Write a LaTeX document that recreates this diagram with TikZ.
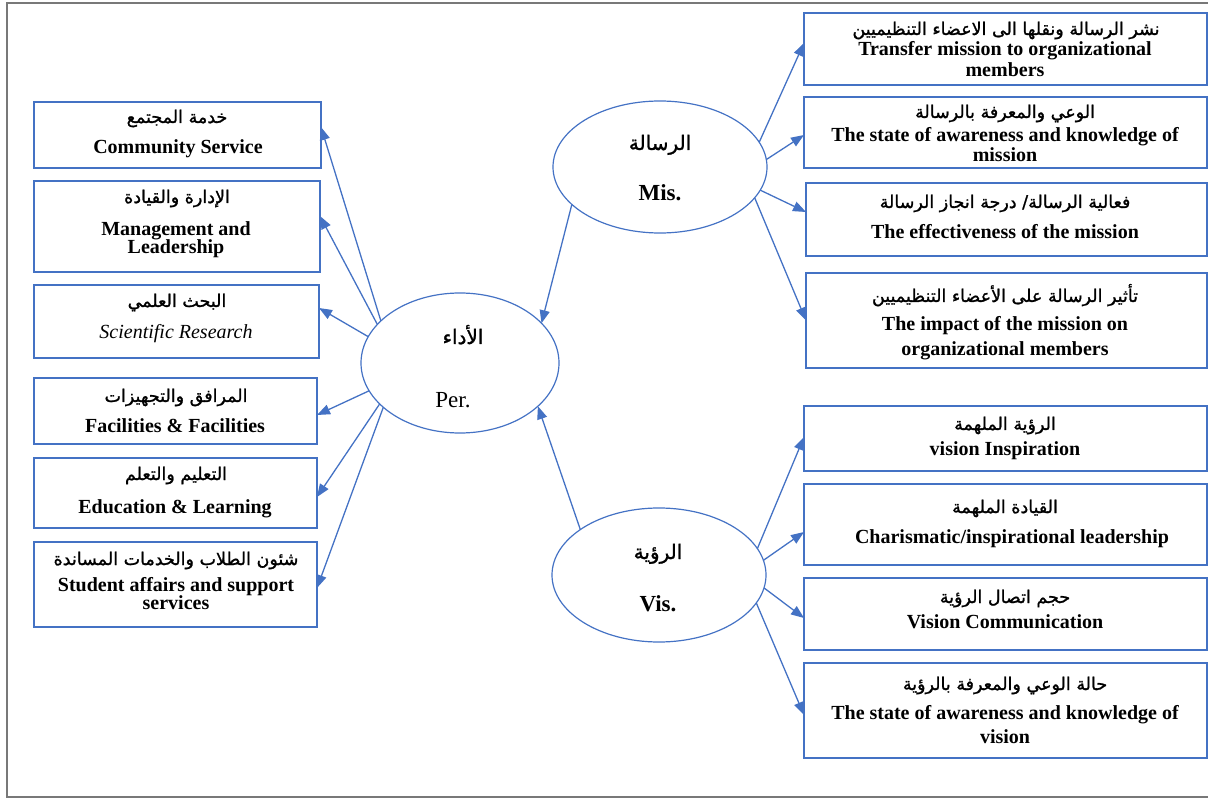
\documentclass[tikz,border=0pt]{standalone}
\usepackage{fontspec}
\setmainfont{Liberation Serif}
\newfontfamily\arabicfont[Script=Arabic,FakeBold=1.2]{DejaVu Sans}
\TeXXeTstate=1
\usetikzlibrary{shapes.geometric,arrows.meta,calc}
\definecolor{lineblue}{RGB}{68,114,196}
\definecolor{framegray}{RGB}{120,120,120}
\newcommand{\bx}[5]{\node[box,minimum width={(#4-#2)*1pt},minimum height={(#5-#3)*1pt}] (#1) at ({(#2+#4)/2},{(#3+#5)/2}) {};}
\newcommand{\AR}[1]{\beginR #1\endR}
\begin{document}
\begin{tikzpicture}[x=1pt,y=-1pt,
  box/.style={draw=lineblue,line width=1.4pt,rectangle,inner sep=0pt,outer sep=0pt},
  ell/.style={draw=lineblue,line width=1.2pt,ellipse,inner sep=0pt,outer sep=0pt},
  en/.style={font=\fontsize{20}{22}\selectfont\bfseries,anchor=base,inner sep=0pt},
  enit/.style={font=\fontsize{20}{22}\selectfont\itshape,anchor=base,inner sep=0pt},
  ar/.style={font=\fontsize{17.5}{19}\selectfont\arabicfont,anchor=base,inner sep=0pt},
  arbig/.style={font=\fontsize{20}{22}\selectfont\arabicfont,anchor=base,inner sep=0pt},
  lab/.style={font=\fontsize{23}{25}\selectfont,anchor=base,inner sep=0pt},
  arr/.style={draw=lineblue,line width=1.3pt,-{Triangle[length=13pt,width=10pt]}}]
\useasboundingbox (0,0) rectangle (1208,799);
\draw[framegray,line width=2pt] (1210,3) -- (7,3) -- (7,797) -- (1210,797);

% ellipses
\node[ell,minimum width=214pt,minimum height=132pt] (mis) at (660,167) {};
\node[ell,minimum width=198pt,minimum height=140pt] (per) at (460,363) {};
\node[ell,minimum width=214pt,minimum height=134pt] (vis) at (659,575) {};
\node[arbig] (misar) at (660,150) {\AR{الرسالة}};
\node[lab,font=\fontsize{23}{25}\selectfont\bfseries] (misen) at (660,201) {Mis.};
\node[arbig] (perar) at (463,344) {\AR{الأداء}};
\node[lab] (peren) at (453,408) {Per.};
\node[arbig] (visar) at (658,559) {\AR{الرؤية}};
\node[lab,font=\fontsize{23}{25}\selectfont\bfseries] (visen) at (658,611) {Vis.};

% left boxes
\bx{cs}{34}{102}{321}{168}
\bx{ml}{34}{181}{320}{272}
\bx{sr}{34}{285}{319}{358}
\bx{ff}{34}{378}{317}{444}
\bx{el}{34}{458}{317}{528}
\bx{sa}{34}{542}{317}{627}

\node[ar] (csar) at (177,123) {\AR{خدمة المجتمع}};
\node[en] (csen) at (178,154) {Community Service};
\node[ar] (mlar) at (177,203) {\AR{الإدارة والقيادة}};
\node[en] (mlen1) at (176,236) {Management and};
\node[en] (mlen2) at (176,254) {Leadership};
\node[ar] (srar) at (177,307) {\AR{البحث العلمي}};
\node[enit] (sren) at (176,339) {Scientific Research};
\node[ar] (ffar) at (176,402) {\AR{المرافق والتجهيزات}};
\node[en] (ffen) at (175,433) {Facilities \& Facilities};
\node[ar] (elar) at (176,480) {\AR{التعليم والتعلم}};
\node[en] (elen) at (175,513) {Education \& Learning};
\node[ar] (saar) at (176,565) {\AR{شئون الطلاب والخدمات المساندة}};
\node[en] (saen1) at (176,591) {Student affairs and support};
\node[en] (saen2) at (176,609) {services};

% right boxes
\bx{tm}{804}{13}{1207}{85}
\bx{am}{804}{97}{1207}{168}
\bx{em}{806}{183}{1207}{256}
\bx{im}{806}{273}{1207}{368}
\bx{vi}{804}{406}{1207}{471}
\bx{cl}{804}{484}{1207}{565}
\bx{vc}{804}{578}{1207}{650}
\bx{av}{804}{663}{1207}{758}

\node[ar] (tmar) at (1006,35) {\AR{نشر الرسالة ونقلها الى الاعضاء التنظيميين}};
\node[en] (tmen1) at (1005,56) {Transfer mission to organizational};
\node[en] (tmen2) at (1005,77) {members};
\node[ar] (amar) at (1005,118) {\AR{الوعي والمعرفة بالرسالة}};
\node[en] (amen1) at (1005,142) {The state of awareness and knowledge of};
\node[en] (amen2) at (1005,162) {mission};
\node[ar] (emar) at (1005,208) {\AR{فعالية الرسالة/ درجة انجاز الرسالة}};
\node[en] (emen) at (1005,239) {The effectiveness of the mission};
\node[ar] (imar) at (1005,302) {\AR{تأثير الرسالة على الأعضاء التنظيميين}};
\node[en] (imen1) at (1005,331) {The impact of the mission on};
\node[en] (imen2) at (1005,356) {organizational members};
\node[ar] (viar) at (1005,430) {\AR{الرؤية الملهمة}};
\node[en] (vien) at (1005,456) {vision Inspiration};
\node[ar] (clar) at (1005,513) {\AR{القيادة الملهمة}};
\node[en] (clen) at (1012,543) {Charismatic/inspirational leadership};
\node[ar] (vcar) at (1005,603) {\AR{حجم اتصال الرؤية}};
\node[en] (vcen) at (1005,628) {Vision Communication};
\node[ar] (avar) at (1005,690) {\AR{حالة الوعي والمعرفة بالرؤية}};
\node[en] (aven1) at (1005,719) {The state of awareness and knowledge of};
\node[en] (aven2) at (1005,743) {vision};

% arrows: performance to left boxes
\draw[arr] (per.152) -- ([yshift=8pt]cs.east);
\draw[arr] (per.155) -- ([yshift=10.5pt]ml.east);
\draw[arr] (per.164) -- ([yshift=13.5pt]sr.east);
\draw[arr] (per.197) -- ([yshift=-4pt]ff.east);
\draw[arr] (per.207) -- ([yshift=-4pt]el.east);
\draw[arr] (per.210) -- ([yshift=-3.5pt]sa.east);

% mission and vision to performance
\draw[arr] (mis.203) -- (per.26);
\draw[arr] (vis.150) -- (per.331);

% mission to right boxes
\draw[arr] (mis.14) -- ([yshift=6pt]tm.west);
\draw[arr] (mis.4) -- ([yshift=-2.5pt]am.west);
\draw[arr] (mis.347) -- ([yshift=7.5pt]em.west);
\draw[arr] (mis.342) -- (im.west);

% vision to right boxes
\draw[arr] (vis.15) -- ([yshift=1.5pt]vi.west);
\draw[arr] (vis.8) -- ([yshift=-7.5pt]cl.west);
\draw[arr] (vis.353) -- ([yshift=-4pt]vc.west);
\draw[arr] (vis.344) -- ([yshift=-4.5pt]av.west);
\end{tikzpicture}
\end{document}
